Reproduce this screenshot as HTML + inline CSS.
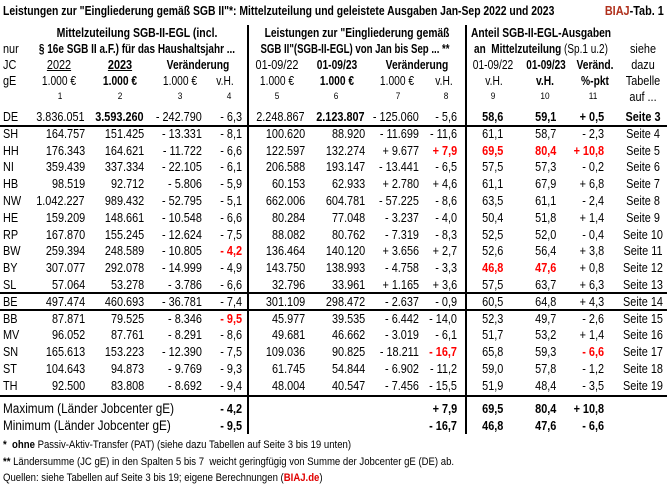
<!DOCTYPE html>
<html><head><meta charset="utf-8">
<style>
html,body{margin:0;padding:0;background:#fff;}
#t{position:relative;width:667px;height:486px;overflow:hidden;font-family:"Liberation Sans",sans-serif;font-size:12.5px;color:#000;}
.c{position:absolute;white-space:nowrap;line-height:16px;height:16px;}
.hl{position:absolute;left:0;width:667px;height:1.5px;background:#000;}
.vl{position:absolute;width:1.5px;background:#000;}
.b{font-weight:bold;}
.red{color:#ff0000;font-weight:bold;}
</style></head>
<body>
<div id="t">
<div class="vl" style="left:247px;top:25px;height:409px"></div>
<div class="vl" style="left:465px;top:25px;height:409px"></div>
<div class="hl" style="top:125px"></div>
<div class="hl" style="top:292px"></div>
<div class="hl" style="top:309px"></div>
<div class="hl" style="top:395px"></div>
</div>
<script>
const states=["DE","SH","HH","NI","HB","NW","HE","RP","BW","BY","SL","BE","BB","MV","SN","ST","TH"];
const alloc2022=["3.836.051","164.757","176.343","359.439","98.519","1.042.227","159.209","167.870","259.394","307.077","57.064","497.474","87.871","96.052","165.613","104.643","92.500"];
const alloc2023=["3.593.260","151.425","164.621","337.334","92.712","989.432","148.661","155.245","248.589","292.078","53.278","460.693","79.525","87.761","153.223","94.873","83.808"];
const allocChg=["- 242.790","- 13.331","- 11.722","- 22.105","- 5.806","- 52.795","- 10.548","- 12.624","- 10.805","- 14.999","- 3.786","- 36.781","- 8.346","- 8.291","- 12.390","- 9.769","- 8.692"];
const allocPct=["- 6,3","- 8,1","- 6,6","- 6,1","- 5,9","- 5,1","- 6,6","- 7,5","- 4,2","- 4,9","- 6,6","- 7,4","- 9,5","- 8,6","- 7,5","- 9,3","- 9,4"];
const spend22=["2.248.867","100.620","122.597","206.588","60.153","662.006","80.284","88.082","136.464","143.750","32.796","301.109","45.977","49.681","109.036","61.745","48.004"];
const spend23=["2.123.807","88.920","132.274","193.147","62.933","604.781","77.048","80.762","140.120","138.993","33.961","298.472","39.535","46.662","90.825","54.844","40.547"];
const spendChg=["- 125.060","- 11.699","+ 9.677","- 13.441","+ 2.780","- 57.225","- 3.237","- 7.319","+ 3.656","- 4.758","+ 1.165","- 2.637","- 6.442","- 3.019","- 18.211","- 6.902","- 7.456"];
const spendPct=["- 5,6","- 11,6","+ 7,9","- 6,5","+ 4,6","- 8,6","- 4,0","- 8,3","+ 2,7","- 3,3","+ 3,6","- 0,9","- 14,0","- 6,1","- 16,7","- 11,2","- 15,5"];
const share22=["58,6","61,1","69,5","57,5","61,1","63,5","50,4","52,5","52,6","46,8","57,5","60,5","52,3","51,7","65,8","59,0","51,9"];
const share23=["59,1","58,7","80,4","57,3","67,9","61,1","51,8","52,0","56,4","47,6","63,7","64,8","49,7","53,2","59,3","57,8","48,4"];
const shareChg=["+ 0,5","- 2,3","+ 10,8","- 0,2","+ 6,8","- 2,4","+ 1,4","- 0,4","+ 3,8","+ 0,8","+ 6,3","+ 4,3","- 2,6","+ 1,4","- 6,6","- 1,2","- 3,5"];
const pages=["Seite 3","Seite 4","Seite 5","Seite 6","Seite 7","Seite 8","Seite 9","Seite 10","Seite 11","Seite 12","Seite 13","Seite 14","Seite 15","Seite 16","Seite 17","Seite 18","Seite 19"];
const redCells=["2-8","2-9","2-10","2-11","8-4","9-9","9-10","12-4","14-8","14-11"];
const maxVals=["- 4,2","+ 7,9","69,5","80,4","+ 10,8"];
const minVals=["- 9,5","- 16,7","46,8","47,6","- 6,6"];

const T=document.getElementById('t');
function put(x,y,html,al,cls,name,fs,sc){
  const el=document.createElement('div');
  el.className='c '+(cls||'');
  el.innerHTML=html;
  
  
  if(fs) el.style.fontSize=fs+'px';
  el.style.top=(y-8)+'px';
  const s='scaleX('+(sc||0.87)+')';
  if(al==='r'){el.style.right=(667-x)+'px';el.style.transform=s;el.style.transformOrigin='right center';}
  else if(al==='c'){el.style.left=x+'px';el.style.transform='translateX(-50%) '+s;el.style.transformOrigin='center center';}
  else {el.style.left=x+'px';el.style.transform=s;el.style.transformOrigin='left center';}
  T.appendChild(el);
  return el;
}
// title
put(3,11,'Leistungen zur "Eingliederung gemäß SGB II"*: Mittelzuteilung und geleistete Ausgaben Jan-Sep 2022 und 2023','l','b','table-title',null,0.83);
put(664,11,'<span style="color:#b0301c">BIAJ</span>-Tab. 1','r','b','table-id');
// header row 1
put(137,33,'Mittelzuteilung SGB-II-EGL (incl.','c','b','header-allocation',null,0.84);
put(357,33,'Leistungen zur "Eingliederung gemäß','c','b','header-spending',null,0.82);
put(541,33,'Anteil SGB-II-EGL-Ausgaben','c','b','header-share',null,0.82);
// row 2
put(3,49,'nur','l','','header-nur');
put(137,49,'§ 16e SGB II a.F.) für das Haushaltsjahr ...','c','b','header-allocation-2',null,0.8);
put(355,49,'SGB II"(SGB-II-EGL) von Jan bis Sep ... **','c','b','header-spending-2',null,0.77);
put(541,49,'<b>an&nbsp; Mittelzuteilung</b> (Sp.1 u.2)','c','','header-share-2',null,0.8);
put(643,49,'siehe','c','','header-see');
// row 3
put(3,65,'JC','l','','header-jc');
put(59,65,'<u>2022</u>','c','','header-2022');
put(120,65,'<u>2023</u>','c','b','header-2023');
put(198,65,'Veränderung','c','b','header-change-alloc',null,0.82);
put(277,65,'01-09/22','c','','header-spend-22');
put(337,65,'01-09/23','c','b','header-spend-23',null,0.82);
put(417,65,'Veränderung','c','b','header-change-spend',null,0.82);
put(493,65,'01-09/22','c','','header-share-22',null,0.82);
put(546,65,'01-09/23','c','b','header-share-23',null,0.8);
put(595,65,'Veränd.','c','b','header-share-change',null,0.82);
put(643,65,'dazu','c','','header-dazu');
// row 4
put(3,81,'gE','l','','header-ge');
const unitX=[59,120,180,225,277,337,397,444,494,545,595];
const unitT=['1.000 €','1.000 €','1.000 €','v.H.','1.000 €','1.000 €','1.000 €','v.H.','v.H.','v.H.','%-pkt'];
const unitB=[0,1,0,0,0,1,0,0,0,1,1];
for(let i=0;i<11;i++){ put(unitX[i],81,unitT[i],'c',unitB[i]?'b':'','unit-label',null,0.82); }
put(643,81,'Tabelle','c','','header-tabelle');
const numX=[60,120,180,229,277,336,398,446,493,545,593];
for(let i=0;i<11;i++){ put(numX[i],97,String(i+1),'c','','column-number',9.5); }
put(643,97,'auf ...','c','','header-auf');
// data rows
const colR=[85,144,202,242,305,365,419,457,503,556,604];
const cols=[alloc2022,alloc2023,allocChg,allocPct,spend22,spend23,spendChg,spendPct,share22,share23,shareChg];
const colNames=['alloc-2022','alloc-2023','alloc-change','alloc-pct','spend-2022','spend-2023','spend-change','spend-pct','share-2022','share-2023','share-change'];
const deBold=[1,5,8,9,10];
for(let r=0;r<states.length;r++){
  const y=117+r*16.8;
  put(3,y,states[r],'l','','state-'+states[r].toLowerCase());
  for(let c=0;c<11;c++){
    let cls='';
    if(r===0 && deBold.indexOf(c)>=0) cls='b';
    if(redCells.indexOf(r+'-'+(c+1))>=0) cls='red';
    put(colR[c],y,cols[c][r],'r',cls,'cell-'+colNames[c]);
  }
  put(643,y,pages[r],'c',r===0?'b':'','page-ref');
}
// max/min
put(3,409,'Maximum (Länder Jobcenter gE)','l','','max-label',13.5);
put(3,426,'Minimum (Länder Jobcenter gE)','l','','min-label',13.5);
const mmCols=[3,7,8,9,10];
for(let i=0;i<5;i++){
  put(colR[mmCols[i]],409,maxVals[i],'r','b','max-value');
  put(colR[mmCols[i]],426,minVals[i],'r','b','min-value');
}
// footnotes
put(3,445,'<b>*&nbsp; ohne</b> Passiv-Aktiv-Transfer (PAT) (siehe dazu Tabellen auf Seite 3 bis 19 unten)','l','','footnote-1',11);
put(3,462,'<b>**</b> Ländersumme (JC gE) in den Spalten 5 bis 7&nbsp; weicht geringfügig von Summe der Jobcenter gE (DE) ab.','l','','footnote-2',11);
put(3,478,'Quellen: siehe Tabellen auf Seite 3 bis 19; eigene Berechnungen (<b style="color:#e00000">BIAJ.de</b>)','l','','footnote-source',11);
</script>
</body></html>
